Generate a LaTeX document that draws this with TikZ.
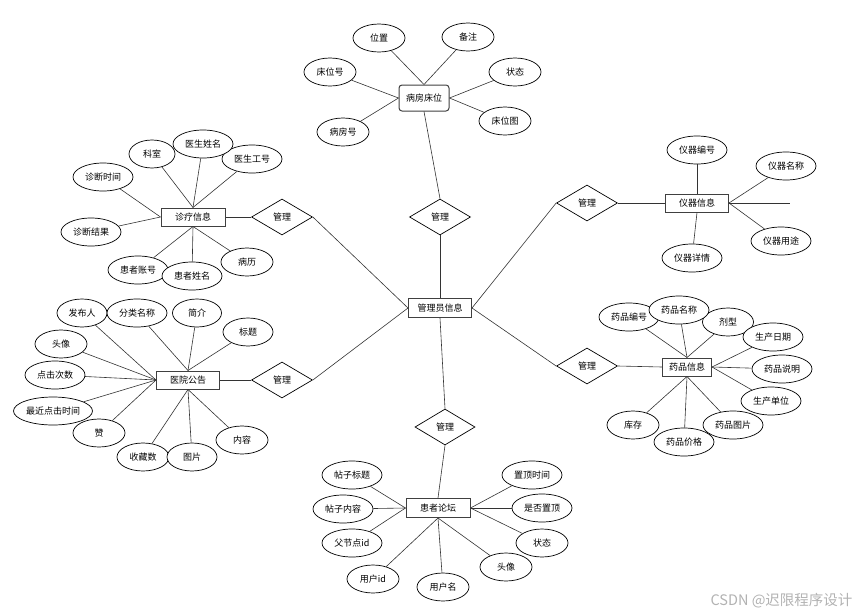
\documentclass[tikz,border=0pt]{standalone}
\usepackage{fontspec}
\setmainfont{Noto Sans CJK SC}
\usetikzlibrary{shapes.geometric, positioning}

\begin{document}
\begin{tikzpicture}[x=1pt, y=-1pt, font=\fontsize{9}{10}\selectfont,
	entity/.style={draw=black!75, line width=1pt, rectangle, fill=white, minimum width=63, minimum height=19, inner sep=1pt},
	attr/.style={draw, line width=0.7pt, ellipse, fill=white, minimum width=52, minimum height=28, inner sep=0pt},
	wattr/.style={attr, minimum width=60},
	rel/.style={draw, line width=0.7pt, diamond, fill=white, minimum width=61, minimum height=36, inner sep=0pt},
	link/.style={draw=black!80, line width=0.6pt}]
				\useasboundingbox (0,0) rectangle (860,616);
				
				% Admin
				\node[entity] (admin) at (440,308) {管理员信息};
				
				% Bed
				\node[entity, rounded corners=3pt, minimum width=50, minimum height=26] (bed) at (424,98) {病房床位};
				\node[attr] (bedPos) at (379,38) {位置};
				\node[attr] (bedNote) at (468,37) {备注};
				\node[attr] (bedNo) at (330,72) {床位号};
				\node[attr] (bedState) at (515,72) {状态};
				\node[attr] (bedRoom) at (343,132) {病房号};
				\node[attr] (bedPic) at (505,121) {床位图};
				\node[rel] (mBed) at (440,217) {管理};
				
				\draw[link] (bed.north) -- (bedPos);
				\draw[link] (bed.north) -- (bedNote);
				\draw[link] (bed.west) -- (bedNo);
				\draw[link] (bed.west) -- (bedRoom);
				\draw[link] (bed.east) -- (bedState);
				\draw[link] (bed.east) -- (bedPic);
				\draw[link] (bed.south) -- (mBed.north);
				\draw[link] (mBed.south) -- (admin.north);
				
				% Diagnosis
				\node[entity, minimum width=64, minimum height=18] (diag) at (193,217) {诊疗信息};
				\node[attr, minimum width=46] (dRoom) at (152,154) {科室};
				\node[wattr] (dDocNo) at (252,159) {医生工号};
				\node[wattr] (dDocName) at (203,144) {医生姓名};
				\node[wattr] (dTime) at (103,177) {诊断时间};
				\node[wattr] (dResult) at (91,232) {诊断结果};
				\node[wattr] (dAcc) at (138,270) {患者账号};
				\node[wattr] (dName) at (192,276) {患者姓名};
				\node[attr] (dRecord) at (247,262) {病历};
				\node[rel] (mDiag) at (282,217) {管理};
				
				\draw[link] (diag.north) -- (dRoom);
				\draw[link] (diag.north) -- (dDocName);
				\draw[link] (diag.north) -- (dDocNo);
				\draw[link] (diag.west) -- (dTime);
				\draw[link] (diag.west) -- (dResult);
				\draw[link] (diag.south) -- (dAcc);
				\draw[link] (diag.south) -- (dName);
				\draw[link] (diag.south) -- (dRecord);
				\draw[link] (diag.east) -- (mDiag.west);
				\draw[link] (mDiag.east) -- (admin.west);
				
				% Notice
				\node[entity, minimum width=63, minimum height=18] (notice) at (188,380) {医院公告};
				\node[attr, minimum width=50] (nPub) at (82,313) {发布人};
				\node[wattr] (nCat) at (137,313) {分类名称};
				\node[attr, minimum width=49] (nIntro) at (197,313) {简介};
				\node[attr, minimum width=50] (nTitle) at (248,332) {标题};
				\node[attr] (nHead) at (61,344) {头像};
				\node[wattr] (nClick) at (55,375) {点击次数};
				\node[attr, minimum width=79] (nLast) at (53,411) {最近点击时间};
				\node[attr] (nLike) at (99,433) {赞};
				\node[attr] (nFav) at (143,457) {收藏数};
				\node[attr, minimum width=50] (nPic) at (192,457) {图片};
				\node[attr] (nText) at (242,440) {内容};
				\node[rel] (mNotice) at (282,380) {管理};
				
				\draw[link] (notice.west) -- (nPub);
				\draw[link] (notice.west) -- (nHead);
				\draw[link] (notice.west) -- (nClick);
				\draw[link] (notice.west) -- (nLast);
				\draw[link] (notice.west) -- (nLike);
				\draw[link] (notice.north) -- (nCat);
				\draw[link] (notice.north) -- (nIntro);
				\draw[link] (notice.north) -- (nTitle);
				\draw[link] (notice.south) -- (nFav);
				\draw[link] (notice.south) -- (nPic);
				\draw[link] (notice.south) -- (nText);
				\draw[link] (notice.east) -- (mNotice.west);
				\draw[link] (mNotice.east) -- (admin.west);
				
				% Instrument
				\node[entity, minimum width=63, minimum height=18] (inst) at (697,203) {仪器信息};
				\node[wattr] (iNo) at (697,150) {仪器编号};
				\node[wattr] (iName) at (786,166) {仪器名称};
				\node[wattr] (iUse) at (781,241) {仪器用途};
				\node[wattr] (iInfo) at (692,258) {仪器详情};
				\coordinate (iEnd) at (790,203);
				\node[rel] (mInst) at (587,203) {管理};
				
				\draw[link] (inst.north) -- (iNo);
				\draw[link] (inst.east) -- (iName);
				\draw[link] (inst.east) -- (iUse);
				\draw[link] (inst.east) -- (iEnd);
				\draw[link] (inst.south) -- (iInfo);
				\draw[link] (mInst.east) -- (inst.west);
				\draw[link] (mInst.west) -- (admin.east);
				
				% Drug
				\node[entity, minimum width=49, minimum height=18] (drug) at (687,367) {药品信息};
				\node[wattr] (gNo) at (629,317) {药品编号};
				\node[attr, minimum width=51] (gType) at (728,322) {剂型};
				\node[wattr] (gName) at (679,310) {药品名称};
				\node[wattr] (gDate) at (773,337) {生产日期};
				\node[wattr] (gDesc) at (782,369) {药品说明};
				\node[wattr] (gMaker) at (771,401) {生产单位};
				\node[attr] (gStock) at (633,425) {库存};
				\node[wattr] (gPic) at (733,425) {药品图片};
				\node[wattr] (gPrice) at (684,442) {药品价格};
				\node[rel] (mDrug) at (587,366) {管理};
				
				\draw[link] (drug.north) -- (gNo);
				\draw[link] (drug.north) -- (gName);
				\draw[link] (drug.north) -- (gType);
				\draw[link] (drug.east) -- (gDate);
				\draw[link] (drug.east) -- (gDesc);
				\draw[link] (drug.east) -- (gMaker);
				\draw[link] (drug.south) -- (gStock);
				\draw[link] (drug.south) -- (gPrice);
				\draw[link] (drug.south) -- (gPic);
				\draw[link] (mDrug.east) -- (drug.west);
				\draw[link] (mDrug.west) -- (admin.east);
				
				% Forum
				\node[entity, minimum width=64, minimum height=19] (forum) at (438,508) {患者论坛};
				\node[wattr] (fTitle) at (352,475) {帖子标题};
				\node[wattr] (fText) at (343,509) {帖子内容};
				\node[wattr] (fParent) at (352,543) {父节点id};
				\node[attr] (fUid) at (373,579) {用户id};
				\node[attr] (fUname) at (443,587) {用户名};
				\node[attr] (fHead) at (506,567) {头像};
				\node[attr] (fState) at (542,543) {状态};
				\node[wattr] (fTop) at (542,508) {是否置顶};
				\node[wattr] (fTopTime) at (532,475) {置顶时间};
				\node[rel, minimum width=60] (mForum) at (445,427) {管理};
				
				\draw[link] (forum.west) -- (fTitle);
				\draw[link] (forum.west) -- (fText);
				\draw[link] (forum.west) -- (fParent);
				\draw[link] (forum.south) -- (fUid);
				\draw[link] (forum.south) -- (fUname);
				\draw[link] (forum.south) -- (fHead);
				\draw[link] (forum.east) -- (fState);
				\draw[link] (forum.east) -- (fTop);
				\draw[link] (forum.east) -- (fTopTime);
				\draw[link] (admin.south) -- (mForum.north);
				\draw[link] (mForum.south) -- (forum.north);
				
				% Watermark
				\node[text=black!30, font=\fontsize{14.5}{16}\selectfont, anchor=east] (mark) at (856,601) {CSDN @迟限程序设计};
			\end{tikzpicture}
\end{document}
